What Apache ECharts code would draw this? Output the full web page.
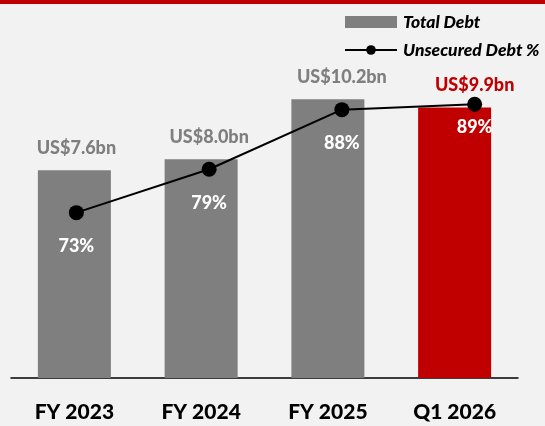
<!DOCTYPE html>
<html>
<head>
<meta charset="utf-8">
<script src="https://cdn.jsdelivr.net/npm/echarts@6/dist/echarts.min.js"></script>
<style>
html,body{margin:0;padding:0;background:#F2F2F2;}
#c{width:545px;height:426px;}
</style>
</head>
<body>
<div id="c"></div>
<script>
var categories = ['FY 2023', 'FY 2024', 'FY 2025', 'Q1 2026'];
var totalDebt = [7.6, 8.0, 10.2, 9.9];
var unsecuredPct = [73.0, 79.4, 88.2, 89.0];
var debtLabels = ['US$7.6bn', 'US$8.0bn', 'US$10.2bn', 'US$9.9bn'];
var pctLabels = ['73%', '79%', '88%', '89%'];

var GRAY = '#7F7F7F', RED = '#C00000';
var FONT = 'Lato';

var chart = echarts.init(document.getElementById('c'), null, {renderer: 'canvas'});

var option = {
  backgroundColor: '#F2F2F2',
  animation: false,
  graphic: [{
    type: 'rect', left: 0, top: 0,
    shape: {width: 545, height: 4},
    style: {fill: RED}
  }],
  legend: {
    orient: 'vertical',
    left: 344, top: 12, padding: 0,
    itemWidth: 52, itemHeight: 12,
    itemGap: 8,
    textStyle: {fontFamily: FONT, fontWeight: 900, fontStyle: 'italic', fontSize: 17.5, color: '#000', lineHeight: 20, padding: [0,0,0,1]},
    data: [
      {name: 'Total Debt', icon: 'rect', itemStyle: {color: GRAY}},
      {name: 'Unsecured Debt %'}
    ]
  },
  grid: [
    {left: 11, right: 27, top: 50, bottom: 48},
    {left: 10, right: 4, top: 50, bottom: 48}
  ],
  xAxis: [
    {
      type: 'category', gridIndex: 0, data: categories,
      axisLine: {lineStyle: {color: '#000', width: 1.5}},
      axisTick: {show: false},
      axisLabel: {fontFamily: FONT, fontWeight: 900, fontSize: 21, color: '#000', margin: 24}
    },
    {
      type: 'category', gridIndex: 1, data: categories, show: false
    }
  ],
  yAxis: [
    {type: 'value', gridIndex: 0, min: 0, max: 12, show: false, splitLine: {show: false}},
    {type: 'value', gridIndex: 1, min: 48.6, max: 97, show: false, splitLine: {show: false}},
    {type: 'value', gridIndex: 1, min: 0, max: 12, show: false, splitLine: {show: false}}
  ],
  series: [
    {
      name: 'Total Debt', type: 'bar', xAxisIndex: 0, yAxisIndex: 0,
      barWidth: 73,
      data: totalDebt.map(function (v, i) {
        return {value: v, itemStyle: {color: i === totalDebt.length - 1 ? RED : GRAY}};
      }),
      itemStyle: {color: GRAY}
    },
    {
      name: 'debtLabels', type: 'bar', xAxisIndex: 1, yAxisIndex: 2,
      barWidth: 73, silent: true,
      itemStyle: {color: 'rgba(0,0,0,0)'},
      label: {
        show: true, position: 'top', distance: 13,
        fontFamily: FONT, fontWeight: 900, fontSize: 18,
        formatter: function (p) { return debtLabels[p.dataIndex]; }
      },
      data: totalDebt.map(function (v, i) {
        return {value: v, label: {color: i === totalDebt.length - 1 ? RED : GRAY}};
      })
    },
    {
      name: 'Unsecured Debt %', type: 'line', xAxisIndex: 1, yAxisIndex: 1,
      symbol: 'circle', symbolSize: 15,
      lineStyle: {color: '#000', width: 2},
      itemStyle: {color: '#000'},
      label: {
        show: true, position: 'bottom', distance: 17,
        fontFamily: FONT, fontWeight: 900, fontSize: 18, color: '#fff',
        formatter: function (p) { return pctLabels[p.dataIndex]; }
      },
      data: unsecuredPct.map(function (v, i) {
        return i === unsecuredPct.length - 1 ? {value: v, label: {distance: 6}} : v;
      }),
      z: 5
    }
  ]
};
chart.setOption(option);
</script>
</body>
</html>
